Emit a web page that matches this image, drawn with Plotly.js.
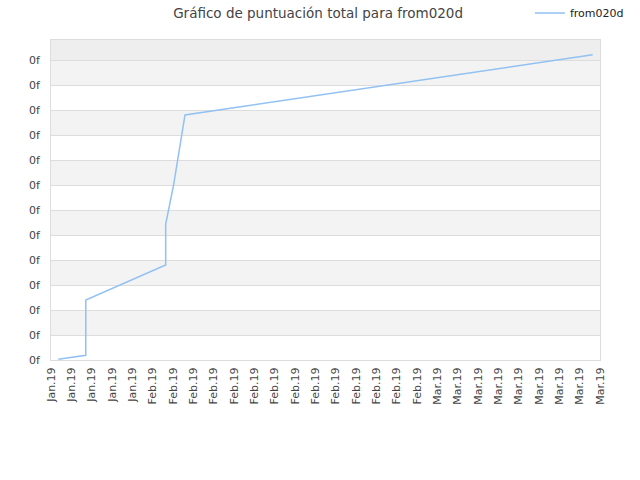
<!DOCTYPE html>
<html>
<head>
<meta charset="utf-8">
<script src="https://cdn.plot.ly/plotly-3.0.1.min.js"></script>
<style>html,body{margin:0;padding:0;background:#fff;}#chart{width:640px;height:480px;}</style>
</head>
<body>
<div id="chart"></div>
<script>
var xTickLabels = ["Jan.19","Jan.19","Jan.19","Jan.19","Jan.19",
  "Feb.19","Feb.19","Feb.19","Feb.19","Feb.19","Feb.19","Feb.19","Feb.19","Feb.19","Feb.19","Feb.19","Feb.19","Feb.19","Feb.19",
  "Mar.19","Mar.19","Mar.19","Mar.19","Mar.19","Mar.19","Mar.19","Mar.19","Mar.19"];
var yTickVals = [0,1,2,3,4,5,6,7,8,9,10,11,12];
var yTickLabels = ["0f","0f","0f","0f","0f","0f","0f","0f","0f","0f","0f","0f","0f"];
var seriesName = "from020d";
var seriesX = [0.36, 1.71, 1.71, 5.64, 5.64, 6.02, 6.59, 26.64];
var seriesY = [0.03, 0.19, 2.40, 3.80, 5.44, 6.96, 9.80, 12.21];
var yMax = 12.8;

var xTickVals = xTickLabels.map(function(_, i){ return i; });

var shapes = [];
for (var i = 1; i < yTickVals.length - 1; i += 2) {
  shapes.push({type:'rect', xref:'paper', yref:'y', x0:0, x1:1, y0:yTickVals[i], y1:yTickVals[i+1],
    fillcolor:'#f3f3f3', line:{width:0}, layer:'below'});
}
shapes.push({type:'rect', xref:'paper', yref:'y', x0:0, x1:1, y0:yTickVals[yTickVals.length-1], y1:yMax,
  fillcolor:'#eeeeee', line:{width:0}, layer:'below'});

var data = [{
  x: seriesX, y: seriesY, name: seriesName, type: 'scatter', mode: 'lines',
  line: {color: '#92c1f2', width: 1.5}
}];

var layout = {
  width: 640, height: 480,
  margin: {l: 51, r: 40, t: 40, b: 120},
  paper_bgcolor: '#ffffff', plot_bgcolor: '#ffffff',
  font: {family: 'DejaVu Sans, sans-serif', size: 11, color: '#444'},
  title: {text: 'Gráfico de puntuación total para from020d', xref: 'container', yref: 'container',
    x: 0.497, xanchor: 'center', y: 0.973, yanchor: 'middle',
    font: {family: 'DejaVu Sans, sans-serif', size: 13.5, color: '#444'}},
  showlegend: true,
  legend: {orientation: 'h', xref: 'container', yref: 'container', x: 0.828, xanchor: 'left', y: 0.973, yanchor: 'middle',
    font: {family: 'DejaVu Sans, sans-serif', size: 11, color: '#222'}, bgcolor: 'rgba(0,0,0,0)'},
  xaxis: {
    automargin: false,
    range: [0, xTickLabels.length - 1], tickmode: 'array', tickvals: xTickVals, ticktext: xTickLabels,
    tickangle: -90, showgrid: false, zeroline: false, showline: true, linecolor: '#dddddd', linewidth: 1, mirror: true,
    ticks: '', ticklabelstandoff: 2, tickfont: {size: 11, color: '#444'}
  },
  yaxis: {
    automargin: false,
    range: [0, yMax], tickmode: 'array', tickvals: yTickVals, ticktext: yTickLabels,
    showgrid: true, gridcolor: '#dddddd', gridwidth: 1, zeroline: false, showline: true, linecolor: '#dddddd', linewidth: 1, mirror: true,
    ticks: '', ticklabelstandoff: 8, tickfont: {size: 11, color: '#444'}
  },
  shapes: shapes
};

Plotly.newPlot('chart', data, layout, {displayModeBar: false, staticPlot: true});
</script>
</body>
</html>
